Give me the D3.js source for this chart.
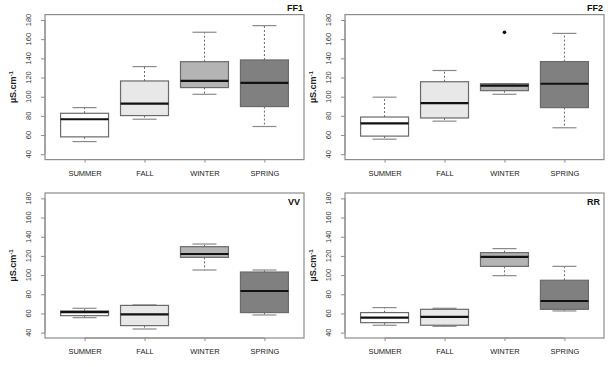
<!DOCTYPE html>
<html>
<head>
<meta charset="utf-8">
<script src="https://cdn.jsdelivr.net/npm/d3@7"></script>
<style>
  html, body { margin: 0; padding: 0; background: #fff; }
  svg { display: block; font-family: "Liberation Sans", Arial, sans-serif; }
</style>
</head>
<body>
<svg id="chart" width="616" height="367"></svg>
<script>
// ---- data ----
const seasons = ["SUMMER", "FALL", "WINTER", "SPRING"];
const sites = ["FF1", "FF2", "VV", "RR"];
const yTicks = [40, 60, 80, 100, 120, 140, 160, 180];
// each box: [lower whisker, Q1, median, Q3, upper whisker]
const ff1 = [[53.2, 58.1, 76.5, 82.7, 88.6], [76.5, 80.3, 92.8, 116.4, 131.4], [102.5, 109.5, 116.4, 136.5, 167.2], [68.9, 89.7, 114.5, 138.3, 174.1]];
const ff2 = [[55.7, 58.9, 72.2, 78.8, 99.5], [74.5, 77.8, 93.2, 115.6, 127.3], [102.5, 106.3, 111.5, 113.5, 113.5], [67.6, 88.6, 113.5, 136.6, 166.0]];
const vv  = [[55.6, 57.7, 61.3, 62.6, 65.4], [43.8, 47.3, 59.1, 68.4, 68.9], [105.3, 118.5, 122.0, 129.6, 132.4], [58.4, 60.9, 83.4, 103.2, 105.3]];
const rr  = [[47.7, 50.4, 55.7, 60.9, 66.1], [46.6, 47.7, 56.5, 64.3, 65.4], [99.4, 109.1, 118.9, 123.4, 127.6], [62.6, 64.3, 73.0, 94.6, 109.1]];
const ff1Out = [[], [], [], []];
const ff2Out = [[], [], [167.1], []];
const vvOut = [[], [], [], []];
const rrOut = [[], [], [], []];
const fills = ["#ffffff", "#e8e8e8", "#b4b4b4", "#808080"];

const panels = [
  { name: sites[0], data: ff1, out: ff1Out, left: 45, top: 14.6, titleInside: false },
  { name: sites[1], data: ff2, out: ff2Out, left: 345, top: 14.6, titleInside: false },
  { name: sites[2], data: vv, out: vvOut, left: 45, top: 193, titleInside: true },
  { name: sites[3], data: rr, out: rrOut, left: 345, top: 193, titleInside: true }
];
const W = 259, H = 145;

const svg = d3.select("#chart");

panels.forEach(p => {
  const g = svg.append("g").attr("transform", `translate(${p.left},${p.top})`);
  const x = d3.scaleLinear().domain([0.34, 4.66]).range([0, W]);
  const y = d3.scaleLinear().domain([34.4, 185.6]).range([H, 0]);
  const bw = x(1.4) - x(1);  // half box width (boxwex 0.8)
  const sw = bw / 2;         // half staple width

  // boxes
  p.data.forEach((d, i) => {
    const cx = x(i + 1);
    const [lo, q1, med, q3, hi] = d;
    const bg = g.append("g");
    // whiskers (dashed)
    bg.append("line").attr("x1", cx).attr("x2", cx).attr("y1", y(q3)).attr("y2", y(hi))
      .attr("stroke", "#6a6a6a").attr("stroke-width", 1).attr("stroke-dasharray", "2,2");
    bg.append("line").attr("x1", cx).attr("x2", cx).attr("y1", y(q1)).attr("y2", y(lo))
      .attr("stroke", "#6a6a6a").attr("stroke-width", 1).attr("stroke-dasharray", "2,2");
    // staples
    [lo, hi].forEach(v => {
      bg.append("line").attr("x1", cx - sw).attr("x2", cx + sw).attr("y1", y(v)).attr("y2", y(v))
        .attr("stroke", "#8a8a8a").attr("stroke-width", 1.2);
    });
    // box
    bg.append("rect").attr("x", cx - bw).attr("width", 2 * bw)
      .attr("y", y(q3)).attr("height", y(q1) - y(q3))
      .attr("fill", fills[i]).attr("stroke", "#6a6a6a").attr("stroke-width", 1.2);
    // median
    bg.append("line").attr("x1", cx - bw).attr("x2", cx + bw).attr("y1", y(med)).attr("y2", y(med))
      .attr("stroke", "#111").attr("stroke-width", 2.2);
    // outliers
    p.out[i].forEach(v => {
      bg.append("circle").attr("cx", cx).attr("cy", y(v)).attr("r", 1.8).attr("fill", "#111");
    });
  });

  // frame
  g.append("rect").attr("x", 0).attr("y", 0).attr("width", W).attr("height", H)
    .attr("fill", "none").attr("stroke", "#8c8c8c").attr("stroke-width", 1.2);

  // y axis
  const yAxis = g.append("g").call(d3.axisLeft(y).tickValues(yTicks).tickSize(4).tickPadding(0).tickFormat(""));
  yAxis.select(".domain").attr("stroke", "#8c8c8c").attr("d", `M-0,${y(40)}V${y(180)}`);
  yAxis.selectAll(".tick line").attr("stroke", "#8c8c8c");
  yTicks.forEach(t => {
    g.append("text").attr("transform", `translate(-17,${y(t)}) rotate(-90)`)
      .attr("text-anchor", "middle").attr("dy", "0.36em")
      .attr("font-size", "7.5px").attr("fill", "#333").text(t);
  });

  // x axis
  const xAxis = g.append("g").attr("transform", `translate(0,${H})`)
    .call(d3.axisBottom(x).tickValues([1, 2, 3, 4]).tickSize(3).tickPadding(8)
      .tickFormat(v => seasons[v - 1]));
  xAxis.select(".domain").attr("stroke", "#8c8c8c").attr("d", `M${x(1)},0H${x(4)}`);
  xAxis.selectAll(".tick line").attr("stroke", "#8c8c8c");
  xAxis.selectAll(".tick text").attr("font-size", "7.5px").attr("fill", "#222")
    .attr("font-family", "'Liberation Sans', Arial, sans-serif");

  // y label
  const yl = g.append("text").attr("transform", `translate(-29,${H / 2}) rotate(-90)`)
    .attr("text-anchor", "middle").attr("font-size", "9px").attr("font-weight", "bold").attr("fill", "#222");
  yl.append("tspan").text("µS.cm");
  yl.append("tspan").attr("dy", "-0.45em").attr("font-size", "6px").text("-1");

  // title
  g.append("text")
    .attr("x", p.titleInside ? W - 4 : W - 1)
    .attr("y", p.titleInside ? 11.5 : -4)
    .attr("text-anchor", "end").attr("font-size", "9px").attr("font-weight", "bold").attr("fill", "#111")
    .text(p.name);
});
</script>
</body>
</html>
